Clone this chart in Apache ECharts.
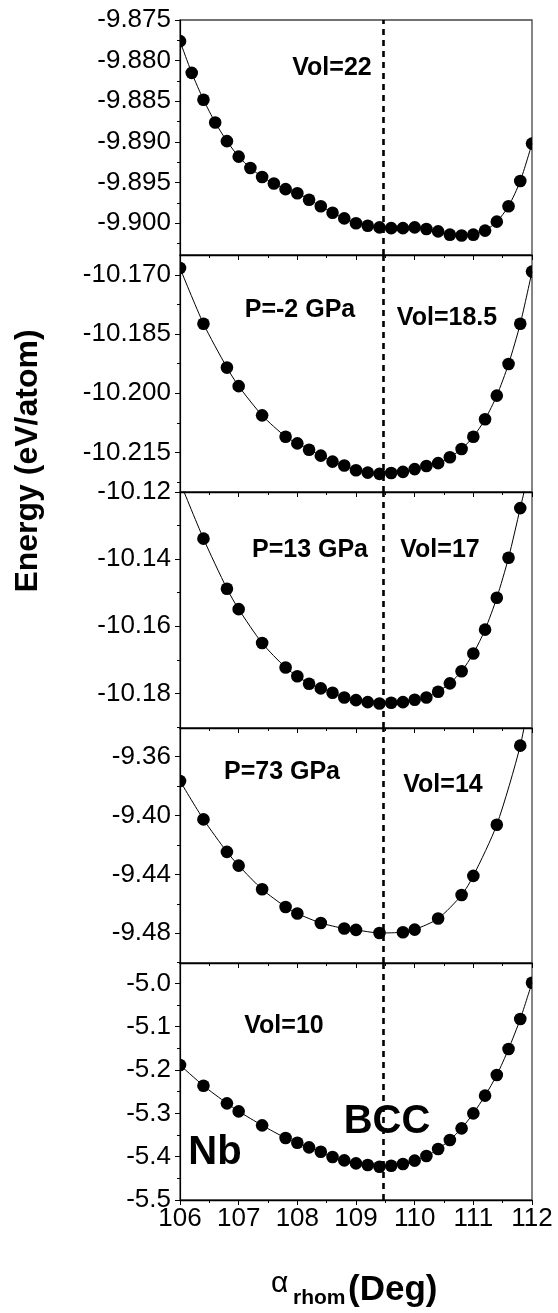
<!DOCTYPE html>
<html>
<head>
<meta charset="utf-8">
<script src="https://cdn.jsdelivr.net/npm/echarts@6/dist/echarts.min.js"></script>
<style>
html,body{margin:0;padding:0;background:#fff;}
#chart{width:558px;height:1313px;}
</style>
</head>
<body>
<div id="chart"></div>
<script>
// ---- data (angle in deg, energy in eV/atom) ----
const angVol22 = [106.0,106.2,106.4,106.6,106.8,107.0,107.2,107.4,107.6,107.8,108.0,108.2,108.4,108.6,108.8,109.0,109.2,109.4,109.6,109.8,110.0,110.2,110.4,110.6,110.8,111.0,111.2,111.4,111.6,111.8,112.0];
const eVol22 = [-9.8776,-9.8815,-9.8848,-9.8876,-9.8899,-9.8918,-9.8932,-9.8943,-9.8951,-9.8958,-9.8963,-9.8971,-9.8979,-9.8987,-9.8994,-9.9000,-9.9003,-9.9005,-9.9006,-9.9006,-9.9005,-9.9007,-9.9010,-9.9014,-9.9015,-9.9014,-9.9009,-9.8998,-9.8979,-9.8948,-9.8902];

const angVol185 = [106.0,106.4,106.8,107.0,107.4,107.8,108.0,108.2,108.4,108.6,108.8,109.0,109.2,109.4,109.6,109.8,110.0,110.2,110.4,110.6,110.8,111.0,111.2,111.4,111.6,111.8,112.0];
const eVol185 = [-10.1683,-10.1824,-10.1935,-10.1982,-10.2056,-10.2110,-10.2127,-10.2143,-10.2158,-10.2173,-10.2183,-10.2195,-10.2201,-10.2204,-10.2202,-10.2199,-10.2192,-10.2184,-10.2177,-10.2162,-10.2141,-10.2110,-10.2066,-10.2006,-10.1926,-10.1824,-10.1692];

const angVol17 = [106.0,106.4,106.8,107.0,107.4,107.8,108.0,108.2,108.4,108.6,108.8,109.0,109.2,109.4,109.6,109.8,110.0,110.2,110.4,110.6,110.8,111.0,111.2,111.4,111.6,111.8,112.0];
const eVol17 = [-10.1170,-10.1339,-10.1488,-10.1549,-10.1650,-10.1723,-10.1749,-10.1771,-10.1785,-10.1798,-10.1812,-10.1820,-10.1826,-10.1830,-10.1828,-10.1826,-10.1819,-10.1812,-10.1795,-10.1770,-10.1734,-10.1681,-10.1610,-10.1515,-10.1396,-10.1248,-10.1100];

const angVol14 = [106.0,106.4,106.8,107.0,107.4,107.8,108.0,108.4,108.8,109.0,109.4,109.8,110.0,110.4,110.8,111.0,111.4,111.8,112.0];
const eVol14 = [-9.3765,-9.4026,-9.4247,-9.4340,-9.4501,-9.4621,-9.4666,-9.4730,-9.4768,-9.4777,-9.4798,-9.4793,-9.4775,-9.4700,-9.4540,-9.4410,-9.4062,-9.3525,-9.3100];

const angVol10 = [106.0,106.4,106.8,107.0,107.4,107.8,108.0,108.2,108.4,108.6,108.8,109.0,109.2,109.4,109.6,109.8,110.0,110.2,110.4,110.6,110.8,111.0,111.2,111.4,111.6,111.8,112.0];
const eVol10 = [-5.1885,-5.2362,-5.2769,-5.2954,-5.3277,-5.3569,-5.3677,-5.3785,-5.3885,-5.4008,-5.4085,-5.4154,-5.4192,-5.4231,-5.4208,-5.4169,-5.4092,-5.3985,-5.3823,-5.3615,-5.3346,-5.3000,-5.2592,-5.2115,-5.1515,-5.0823,-4.9985];

// ---- tick labels ----
const xTicks = [106,107,108,109,110,111,112];
const yTicks22 = [-9.875,-9.880,-9.885,-9.890,-9.895,-9.900];
const yMinor22 = [-9.8775,-9.8825,-9.8875,-9.8925,-9.8975,-9.9025];
const yTicks185 = [-10.170,-10.185,-10.200,-10.215];
const yMinor185 = [-10.1775,-10.1925,-10.2075,-10.2225];
const yTicks17 = [-10.12,-10.14,-10.16,-10.18];
const yMinor17 = [-10.13,-10.15,-10.17,-10.19];
const yTicks14 = [-9.36,-9.40,-9.44,-9.48];
const yMinor14 = [-9.38,-9.42,-9.46,-9.50];
const yTicks10 = [-5.0,-5.1,-5.2,-5.3,-5.4,-5.5];
const yMinor10 = [-5.05,-5.15,-5.25,-5.35,-5.45];

const bccAngle = 109.47;

// ---- panel axis settings ----
const panels = [
  {x: angVol22,  e: eVol22,  min: -9.9039,  max: -9.875,  major: yTicks22,  minor: yMinor22,  dec: 3, top: 20,  h: 235},
  {x: angVol185, e: eVol185, min: -10.2250, max: -10.165, major: yTicks185, minor: yMinor185, dec: 3, top: 255, h: 237},
  {x: angVol17,  e: eVol17,  min: -10.1903, max: -10.12,  major: yTicks17,  minor: yMinor17,  dec: 2, top: 492, h: 236},
  {x: angVol14,  e: eVol14,  min: -9.5002,  max: -9.3405, major: yTicks14,  minor: yMinor14,  dec: 2, top: 728, h: 235},
  {x: angVol10,  e: eVol10,  min: -5.5,     max: -4.953,  major: yTicks10,  minor: yMinor10,  dec: 1, top: 963, h: 237}
];

const FONT = '"Liberation Sans", Arial, Helvetica, sans-serif';

const grid = [], xAxis = [], yAxis = [], series = [];
panels.forEach((p, i) => {
  grid.push({left: 180, right: 26, top: p.top, height: p.h, show: true,
    borderColor: '#444', borderWidth: 1.3, backgroundColor: 'transparent'});
  xAxis.push({
    type: 'value', gridIndex: i, min: xTicks[0], max: xTicks[xTicks.length-1], interval: 1,
    axisLine: {show: true, onZero: false, lineStyle: {color: '#000', width: 1.3}},
    axisTick: {show: true, inside: false, length: 5, lineStyle: {color: '#000', width: 1}},
    minorTick: {show: true, splitNumber: 2, length: 3, lineStyle: {color: '#000', width: 1}},
    axisLabel: {show: i === panels.length - 1, color: '#000', fontSize: 26, fontFamily: FONT, margin: 6},
    splitLine: {show: false}, minorSplitLine: {show: false}, z: 5
  });
  yAxis.push({
    type: 'value', gridIndex: i, position: 'left', min: p.min, max: p.max,
    axisLine: {show: true, onZero: false, lineStyle: {color: '#000', width: 1.2}},
    axisTick: {show: true, inside: false, length: 5, customValues: p.major, lineStyle: {color: '#000', width: 1}},
    axisLabel: {show: true, customValues: p.major, color: '#000', fontSize: 26, fontFamily: FONT, margin: 9,
      formatter: (v) => Number(v).toFixed(p.dec)},
    splitLine: {show: false}, z: 5
  });
  yAxis.push({
    type: 'value', gridIndex: i, position: 'left', min: p.min, max: p.max,
    axisLine: {show: false},
    axisTick: {show: true, inside: false, length: 3, customValues: p.minor, lineStyle: {color: '#000', width: 1}},
    axisLabel: {show: false},
    splitLine: {show: false}, z: 5
  });
  const pts = p.x.map((a, k) => [a, p.e[k]]);
  series.push({
    type: 'line', xAxisIndex: i, yAxisIndex: 2 * i, data: pts,
    showSymbol: false, symbol: 'none', smooth: 0.25, clip: true,
    lineStyle: {color: '#000', width: 1}, silent: true, z: 2,
    markLine: {
      silent: true, symbol: ['none', 'none'], label: {show: false},
      lineStyle: {color: '#000', width: 2.6, type: [6, 5]},
      data: [{xAxis: bccAngle}]
    }
  });
  series.push({
    type: 'custom', xAxisIndex: i, yAxisIndex: 2 * i, data: pts, clip: true, silent: true, z: 3,
    renderItem: function (params, api) {
      const c = api.coord([api.value(0), api.value(1)]);
      return {type: 'circle', shape: {cx: c[0], cy: c[1], r: 6.3}, style: {fill: '#000'}};
    }
  });
});

function txt(text, x, y, size, extra) {
  return Object.assign({
    type: 'text', x: x, y: y, z: 10,
    style: Object.assign({text: text, font: 'bold ' + size + 'px ' + FONT, fill: '#000',
      textAlign: 'center', textVerticalAlign: 'middle', align: 'center', verticalAlign: 'middle'}, {})
  }, extra || {});
}

const graphic = [
  txt('Vol=22', 332, 68, 25),
  txt('P=-2 GPa', 300, 310, 25),
  txt('Vol=18.5', 447, 318, 25),
  txt('P=13 GPa', 310, 550, 25),
  txt('Vol=17', 440, 550, 25),
  txt('P=73 GPa', 282, 772, 25),
  txt('Vol=14', 443, 785, 25),
  txt('Vol=10', 284, 1026, 25),
  txt('BCC', 387, 1122, 40),
  txt('Nb', 215, 1153, 40),
  txt('Energy (eV/atom)', 28, 461, 32, {rotation: Math.PI / 2}),
  {type: 'text', x: 271, y: 1284, z: 10, style: {text: 'α', font: '30px ' + FONT, fill: '#000',
    textAlign: 'left', textVerticalAlign: 'middle', align: 'left', verticalAlign: 'middle'}},
  {type: 'text', x: 293, y: 1298, z: 10, style: {text: 'rhom', font: 'bold 21px ' + FONT, fill: '#000',
    textAlign: 'left', textVerticalAlign: 'middle', align: 'left', verticalAlign: 'middle'}},
  {type: 'text', x: 348, y: 1290, z: 10, style: {text: '(Deg)', font: 'bold 35px ' + FONT, fill: '#000',
    textAlign: 'left', textVerticalAlign: 'middle', align: 'left', verticalAlign: 'middle'}}
];

const chart = echarts.init(document.getElementById('chart'), null, {renderer: 'canvas'});
chart.setOption({
  animation: false,
  backgroundColor: '#fff',
  grid: grid, xAxis: xAxis, yAxis: yAxis, series: series, graphic: graphic
});
</script>
</body>
</html>
